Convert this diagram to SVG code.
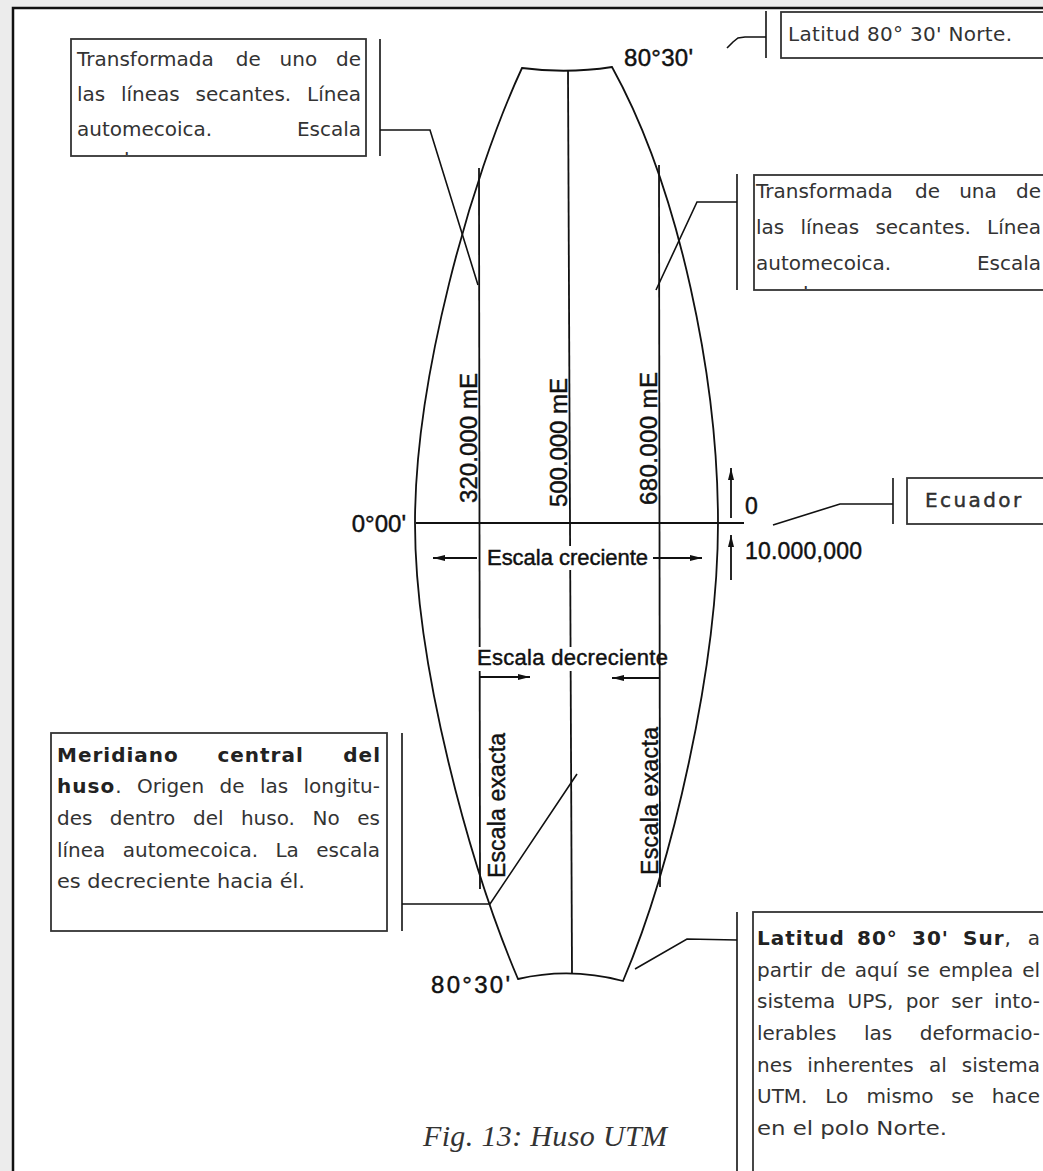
<svg xmlns="http://www.w3.org/2000/svg" width="1043" height="1171" viewBox="0 0 1043 1171">
<style>
.bt{font-family:"DejaVu Sans",sans-serif;font-size:20px;fill:#333}
.bb{font-weight:bold;letter-spacing:1px;fill:#222}
.dl{font-family:"Liberation Sans",Arial,sans-serif;fill:#111;stroke:#111;stroke-width:0.45}
.box{fill:#fff;stroke:#333;stroke-width:1.8}
.ln{fill:none;stroke:#111;stroke-width:1.8}
.ld{fill:none;stroke:#111;stroke-width:1.6}
.ar{fill:none;stroke:#111;stroke-width:1.8;marker-end:url(#ah)}
</style>
<defs>
<marker id="ah" markerUnits="userSpaceOnUse" markerWidth="14" markerHeight="8" refX="12" refY="4" orient="auto">
<path d="M0,1 L12,4 L0,7 z" fill="#111"/>
</marker>
<clipPath id="c1"><rect x="71" y="39" width="295" height="116"/></clipPath>
<clipPath id="c2"><rect x="754" y="175" width="300" height="114"/></clipPath>
</defs>
<rect x="0" y="0" width="1043" height="1171" fill="#ececec"/>
<rect x="13" y="8" width="1045" height="1180" fill="#fff" stroke="#111" stroke-width="2.5"/>

<g id="huso">
<path class="ln" d="M522,68 Q567,74 612,67 C680,190 718,380 718,523 C718,666 672,866 623,981 Q570,967 518,979 C470,866 415,666 415,523 C415,380 470,180 522,68 Z"/>
<line class="ln" x1="568" y1="71" x2="572" y2="973"/>
<line class="ln" x1="479" y1="168" x2="480" y2="889"/>
<line class="ln" x1="659" y1="165" x2="660" y2="887"/>
<line class="ln" x1="416" y1="523" x2="744" y2="523"/>
<rect x="485" y="546" width="166" height="24" fill="#fff"/>
<rect x="474" y="647" width="182" height="24" fill="#fff"/>
<text class="dl" font-size="22" x="487" y="565" textLength="161">Escala creciente</text>
<text class="dl" font-size="22" x="477" y="665" textLength="191">Escala decreciente</text>
<line class="ar" x1="477" y1="558" x2="433" y2="558"/>
<line class="ar" x1="653" y1="558" x2="702" y2="558"/>
<polyline class="ar" points="480,677 530,677"/>
<polyline class="ar" points="660,678 612,678"/>
<line class="ar" x1="731" y1="518" x2="731" y2="468"/>
<line class="ar" x1="731" y1="580" x2="731" y2="535"/>
<text class="dl" font-size="24" transform="translate(477,503) rotate(-90)" textLength="130">320.000 mE</text>
<text class="dl" font-size="24" transform="translate(567,507) rotate(-90)" textLength="129">500.000 mE</text>
<text class="dl" font-size="24" transform="translate(657,505) rotate(-90)" textLength="133">680.000 mE</text>
<text class="dl" font-size="23" transform="translate(505,878) rotate(-90)" textLength="145">Escala exacta</text>
<text class="dl" font-size="23" transform="translate(658,875) rotate(-90)" textLength="148">Escala exacta</text>
<text class="dl" font-size="24" x="406" y="532" text-anchor="end">0°00'</text>
<text class="dl" font-size="24" x="624" y="66" textLength="69">80°30'</text>
<text class="dl" font-size="24" x="431" y="993" textLength="79">80°30'</text>
<text class="dl" font-size="23" x="745" y="514">0</text>
<text class="dl" font-size="23" x="745" y="559" textLength="117">10.000,000</text>
</g>

<g id="connectors">
<polyline class="ld" points="380,39 380,156"/>
<polyline class="ld" points="380,130 430,130 478,285"/>
<polyline class="ld" points="766,11 766,58"/>
<polyline class="ld" points="766,37 745,37 738,38 733,42 727,48"/>
<polyline class="ld" points="737,174 737,290"/>
<polyline class="ld" points="737,202 697,202 656,290"/>
<polyline class="ld" points="893,478 893,524"/>
<polyline class="ld" points="893,504 840,504 773,525"/>
<polyline class="ld" points="402,733 402,931"/>
<polyline class="ld" points="402,904 490,904 577,774"/>
<polyline class="ld" points="737,912 737,1175"/>
<polyline class="ld" points="737,940 687,939 635,969"/>
</g>

<g id="box-secante-izq">
<rect class="box" x="71" y="39" width="295" height="117"/>
<g clip-path="url(#c1)">
<text class="bt" y="66"><tspan x="77">Transformada</tspan><tspan x="235.8">de</tspan><tspan x="279.6">uno</tspan></text>
<text class="bt" y="66" x="361" text-anchor="end">de</text>
<text class="bt" y="101"><tspan x="77">las</tspan><tspan x="121">líneas</tspan><tspan x="195.6">secantes.</tspan></text>
<text class="bt" y="101" x="361" text-anchor="end">Línea</text>
<text class="bt" y="136" x="77">automecoica.</text>
<text class="bt" y="136" x="361" text-anchor="end">Escala</text>
<text class="bt" y="166" x="77">exacta.</text>
</g>
</g>

<g id="box-norte">
<rect class="box" x="781" y="12" width="280" height="46"/>
<text class="bt" x="788" y="41" textLength="224">Latitud 80° 30' Norte.</text>
</g>

<g id="box-secante-der">
<rect class="box" x="754" y="175" width="300" height="115"/>
<g clip-path="url(#c2)">
<text class="bt" y="198"><tspan x="756">Transformada</tspan><tspan x="915.1">de</tspan><tspan x="959.2">una</tspan></text>
<text class="bt" y="198" x="1041" text-anchor="end">de</text>
<text class="bt" y="234"><tspan x="756">las</tspan><tspan x="800.4">líneas</tspan><tspan x="875.4">secantes.</tspan></text>
<text class="bt" y="234" x="1041" text-anchor="end">Línea</text>
<text class="bt" y="270" x="756">automecoica.</text>
<text class="bt" y="270" x="1041" text-anchor="end">Escala</text>
<text class="bt" y="300" x="756">exacta.</text>
</g>
</g>

<g id="box-ecuador">
<rect class="box" x="907" y="478" width="150" height="46"/>
<text class="bt" x="925" y="507" font-size="20" letter-spacing="2.4" fill="#222" stroke="#222" stroke-width="0.4">Ecuador</text>
</g>

<g id="box-meridiano">
<rect class="box" x="51" y="733" width="336" height="198"/>
<text class="bt" y="762"><tspan class="bb" x="57">Meridiano</tspan><tspan class="bb" x="217.4">central</tspan></text>
<text class="bt bb" y="762" x="381" text-anchor="end">del</text>
<text class="bt" y="793"><tspan class="bb" x="57">huso</tspan><tspan>.</tspan><tspan x="136.9">Origen</tspan><tspan x="219.5">de</tspan><tspan x="259.9">las</tspan></text>
<text class="bt" y="793" x="380" text-anchor="end">longitu-</text>
<text class="bt" y="825"><tspan x="57">des</tspan><tspan x="109.7">dentro</tspan><tspan x="193">del</tspan><tspan x="240.9">huso.</tspan><tspan x="312.6">No</tspan></text>
<text class="bt" y="825" x="380" text-anchor="end">es</text>
<text class="bt" y="857"><tspan x="57">línea</tspan><tspan x="122.8">automecoica.</tspan><tspan x="275.4">La</tspan></text>
<text class="bt" y="857" x="380" text-anchor="end">escala</text>
<text class="bt" y="888" x="57" textLength="248" lengthAdjust="spacingAndGlyphs">es decreciente hacia él.</text>
</g>

<g id="box-sur">
<rect class="box" x="753" y="912" width="300" height="270"/>
<text class="bt" y="945"><tspan class="bb" x="757">Latitud</tspan><tspan class="bb" x="857">80°</tspan><tspan class="bb" x="912">30'</tspan><tspan class="bb" x="963">Sur</tspan><tspan>,</tspan></text>
<text class="bt" y="945" x="1040" text-anchor="end">a</text>
<text class="bt" y="977"><tspan x="757">partir</tspan><tspan x="820.8">de</tspan><tspan x="854.8">aquí</tspan><tspan x="907">se</tspan><tspan x="938.7">emplea</tspan></text>
<text class="bt" y="977" x="1040" text-anchor="end">el</text>
<text class="bt" y="1008"><tspan x="757">sistema</tspan><tspan x="847.6">UPS,</tspan><tspan x="905.7">por</tspan><tspan x="951.2">ser</tspan></text>
<text class="bt" y="1008" x="1040" text-anchor="end">into-</text>
<text class="bt" y="1040"><tspan x="757">lerables</tspan><tspan x="863.9">las</tspan></text>
<text class="bt" y="1040" x="1040" text-anchor="end">deformacio-</text>
<text class="bt" y="1072"><tspan x="757">nes</tspan><tspan x="807.2">inherentes</tspan><tspan x="929">al</tspan></text>
<text class="bt" y="1072" x="1040" text-anchor="end">sistema</text>
<text class="bt" y="1103"><tspan x="757">UTM.</tspan><tspan x="825.3">Lo</tspan><tspan x="866.4">mismo</tspan><tspan x="951.3">se</tspan></text>
<text class="bt" y="1103" x="1040" text-anchor="end">hace</text>
<text class="bt" y="1135" x="757" textLength="190" lengthAdjust="spacingAndGlyphs">en el polo Norte.</text>
</g>

<g id="caption">
<text x="423" y="1146" font-family="'Liberation Serif',serif" font-style="italic" font-size="30" fill="#333" textLength="244">Fig. 13: Huso UTM</text>
</g>
</svg>
